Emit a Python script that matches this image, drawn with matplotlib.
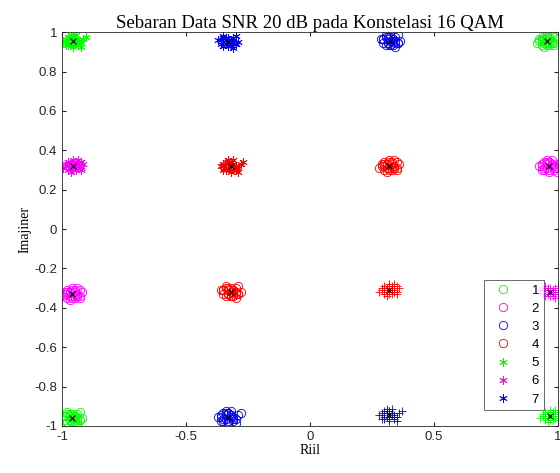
import matplotlib.pyplot as plt

# titik pusat (centroid) tiap kelompok hasil clustering
pusat_x = [0.955, -0.96, 0.965, -0.96, 0.325, -0.33, 0.32, -0.32,
           -0.955, -0.955, -0.33, -0.32, 0.97, 0.97, 0.32, 0.32]
pusat_y = [0.955, -0.96, 0.32, -0.33, 0.955, -0.955, 0.32, -0.32,
           0.955, 0.32, 0.95, 0.32, -0.95, -0.32, -0.945, -0.31]
grup = [1, 1, 2, 2, 3, 3, 4, 4, 5, 6, 7, 8, 9, 10, 11, 12]

# sebaran noise di sekitar titik pusat (satuan 0.01)
noise_a_x = [-2, 1, 3, -3, 0, 2, -1, 4, -4, 1, -2, 3, 0, -1, 2]
noise_a_y = [1, -2, 2, 0, 3, -1, -3, 1, -1, 2, 0, -2, -1, 1, 3]
noise_b_x = [3, -1, -3, 2, 0, -2, 1, 4, -4, -1, 2, 0, 3, -3, 1]
noise_b_y = [-1, 2, 1, -3, 0, 3, -2, 0, 1, -1, 2, -2, 3, -1, 1]
noise_c_x = [0, -3, 2, 1, -2, 4, -1, 3, -4, 2, -1, 1, -3, 0, 5]
noise_c_y = [2, 0, -2, 3, -1, 1, 2, -3, 0, -1, 3, 1, -2, -3, 2]
noise_d_x = [1, -1, 2, -2, 0, 1, -3, 2, -1, 3, 0, -2]
noise_d_y = [0, 1, -1, 2, -2, 1, 1, 0, -1, -1, 2, -2]

warna_grup = ["#00ff00", "#ff00ff", "#0000ff", "#ff0000"]
penanda = ["o", "o", "o", "o", (6, 2, 0), (6, 2, 0), (6, 2, 0), (6, 2, 0),
           "+", "+", "+", "+"]

fig = plt.figure(figsize=(5.6, 4.73), dpi=100)
ax = fig.add_axes([0.111, 0.0994, 0.885, 0.8326])

pola = [(noise_a_x, noise_a_y), (noise_b_x, noise_b_y), (noise_c_x, noise_c_y)]
sudah = set()
for i in range(len(pusat_x)):
    g = grup[i]
    nx, ny = pola[i % 3]
    xs = [pusat_x[i] + d * 0.01 for d in nx + noise_d_x]
    ys = [pusat_y[i] + d * 0.01 for d in ny + noise_d_y]
    label = str(g) if (g <= 7 and g not in sudah) else None
    sudah.add(g)
    ax.plot(xs, ys, linestyle="none", marker=penanda[g - 1],
            color=warna_grup[(g - 1) % 4], markersize=6,
            markerfacecolor="none", markeredgewidth=0.6, label=label)

ax.plot(pusat_x, pusat_y, linestyle="none", marker="x", color="black",
        markersize=5, markeredgewidth=0.8)

ax.set_xlim(-1, 1)
ax.set_ylim(-1, 1)
ax.set_xticks([-1, -0.5, 0, 0.5, 1])
ax.set_xticklabels(["-1", "-0.5", "0", "0.5", "1"])
ax.set_yticks([-1, -0.8, -0.6, -0.4, -0.2, 0, 0.2, 0.4, 0.6, 0.8, 1])
ax.set_yticklabels(["-1", "-0.8", "-0.6", "-0.4", "-0.2", "0", "0.2", "0.4",
                    "0.6", "0.8", "1"])
ax.tick_params(direction="in", length=3, labelsize=9.5, colors="#262626",
               top=True, right=True)
for t in ax.get_xticklabels() + ax.get_yticklabels():
    t.set_family("Liberation Sans")
for s in ax.spines.values():
    s.set_color("#262626")
    s.set_linewidth(0.6)

ax.set_title("Sebaran Data SNR 20 dB pada Konstelasi 16 QAM",
             family="Liberation Serif", fontsize=13.5, pad=3)
ax.set_xlabel("Riil", family="Liberation Serif", fontsize=10, labelpad=1)
ax.set_ylabel("Imajiner", family="Liberation Serif", fontsize=10, labelpad=2)

leg = ax.legend(loc="lower right", bbox_to_anchor=(0.972, 0.04),
                fontsize=9.5, frameon=True, fancybox=False,
                edgecolor="#262626", labelspacing=0.45, handlelength=2.2,
                handletextpad=1.1, borderpad=0.35, borderaxespad=0)
leg.get_frame().set_linewidth(0.6)
for t in leg.get_texts():
    t.set_family("Liberation Sans")

fig.savefig("out.png", dpi=100)
